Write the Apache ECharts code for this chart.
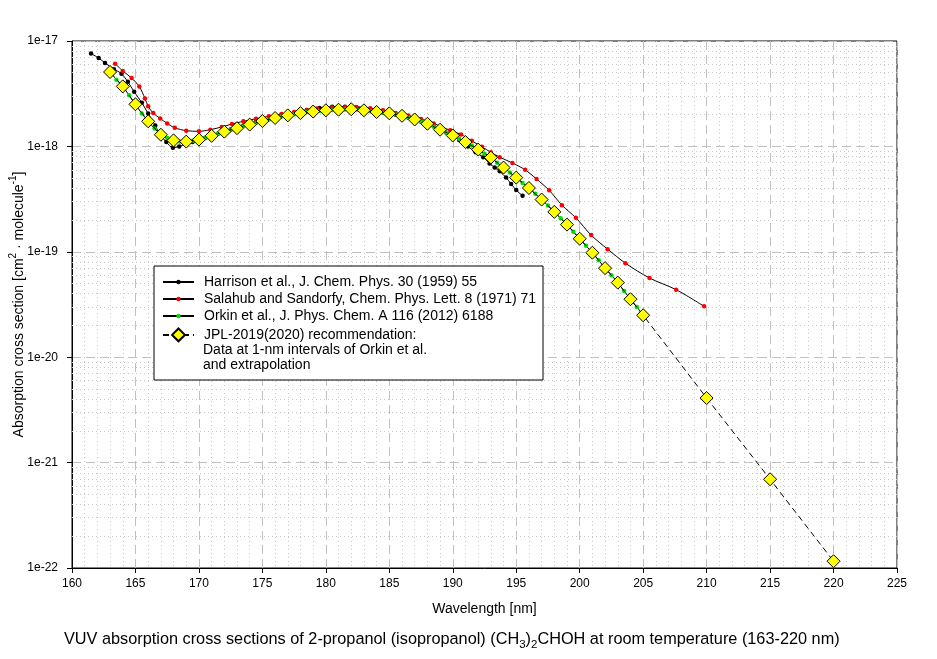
<!DOCTYPE html>
<html>
<head>
<meta charset="utf-8">
<script src="https://cdn.jsdelivr.net/npm/echarts@6/dist/echarts.min.js"></script>
<style>
  html, body { margin: 0; padding: 0; background: #fff; }
  #chart { width: 937px; height: 659px; }
</style>
</head>
<body>
<div id="chart"></div>
<script>
// Harrison et al. (1959)
const harrisonWl = [161.5, 162.1, 162.6, 163.3, 163.9, 164.4, 164.9, 165.5, 166.0, 166.56, 166.9, 167.43, 167.95, 168.45,
  169.0, 169.5, 170.5, 171.5, 172.5, 173.5, 174.5, 175.5, 176.5, 177.5, 178.5, 179.5, 180.5, 181.5, 182.5, 183.5,
  184.5, 185.5, 186.5, 187.5, 188.5, 189.5, 190.5, 191.2, 191.8, 192.4, 192.9, 193.3, 193.7, 194.2, 194.6, 195.0, 195.5];
const harrisonVal = [7.6e-18, 6.9e-18, 6.2e-18, 5.4e-18, 4.9e-18, 4.1e-18, 3.3e-18, 2.6e-18, 2.05e-18, 1.58e-18, 1.32e-18, 1.1e-18, 9.7e-19, 1.0e-18,
  1.05e-18, 1.1e-18, 1.2e-18, 1.32e-18, 1.45e-18, 1.58e-18, 1.7e-18, 1.82e-18, 1.95e-18, 2.07e-18, 2.22e-18, 2.32e-18, 2.38e-18, 2.38e-18, 2.3e-18, 2.2e-18,
  2.1e-18, 2.0e-18, 1.88e-18, 1.72e-18, 1.55e-18, 1.35e-18, 1.15e-18, 1.0e-18, 8.8e-19, 7.9e-19, 6.9e-19, 6.3e-19, 5.8e-19, 5.06e-19, 4.4e-19, 3.85e-19, 3.4e-19];

// Salahub and Sandorfy (1971)
const salahubWl = [163.4, 164.0, 164.7, 165.3, 165.75, 166.0, 166.4, 166.95, 167.5, 168.1, 169.0, 170.0, 170.9, 171.8, 172.6,
  173.5, 174.5, 175.5, 176.5, 177.5, 178.5, 179.3, 180.5, 181.5, 182.4, 183.5, 184.5, 185.5, 186.5, 187.5, 188.5,
  189.8, 190.65, 191.5, 192.3, 193.0, 193.7, 194.7, 195.7, 196.6, 197.6, 198.6, 199.7, 200.9, 202.2, 203.6, 205.5, 207.6, 209.8];
const salahubVal = [6.1e-18, 5.2e-18, 4.45e-18, 3.7e-18, 2.85e-18, 2.4e-18, 2.07e-18, 1.84e-18, 1.65e-18, 1.5e-18, 1.41e-18, 1.39e-18, 1.44e-18, 1.53e-18, 1.63e-18,
  1.73e-18, 1.83e-18, 1.93e-18, 2.03e-18, 2.12e-18, 2.22e-18, 2.29e-18, 2.34e-18, 2.37e-18, 2.37e-18, 2.3e-18, 2.2e-18, 2.08e-18, 1.96e-18, 1.82e-18, 1.65e-18,
  1.42e-18, 1.3e-18, 1.13e-18, 9.9e-19, 8.8e-19, 7.9e-19, 6.96e-19, 6.0e-19, 4.9e-19, 3.83e-19, 2.77e-19, 2.1e-19, 1.44e-19, 1.06e-19, 7.8e-20, 5.64e-20, 4.37e-20, 3.04e-20];

// Orkin et al. (2012), 0.5 nm steps
const orkinWl = [163, 163.5, 164, 164.5, 165, 165.5, 166, 166.5, 167, 167.5, 168, 168.5, 169, 169.5, 170, 170.5,
  171, 171.5, 172, 172.5, 173, 173.5, 174, 174.5, 175, 175.5, 176, 176.5, 177, 177.5, 178, 178.5, 179, 179.5,
  180, 180.5, 181, 181.5, 182, 182.5, 183, 183.5, 184, 184.5, 185, 185.5, 186, 186.5, 187, 187.5, 188, 188.5,
  189, 189.5, 190, 190.5, 191, 191.5, 192, 192.5, 193, 193.5, 194, 194.5, 195, 195.5, 196, 196.5, 197, 197.5,
  198, 198.5, 199, 199.5, 200, 200.5, 201, 201.5, 202, 202.5, 203, 203.5, 204, 204.5, 205];
const orkinVal = [5.08e-18, 4.3e-18, 3.71e-18, 3.05e-18, 2.51e-18, 2.05e-18, 1.73e-18, 1.48e-18, 1.29e-18, 1.2e-18, 1.14e-18, 1.11e-18, 1.11e-18, 1.13e-18, 1.16e-18, 1.21e-18,
  1.26e-18, 1.32e-18, 1.38e-18, 1.43e-18, 1.49e-18, 1.55e-18, 1.61e-18, 1.67e-18, 1.74e-18, 1.8e-18, 1.86e-18, 1.92e-18, 1.97e-18, 2.02e-18, 2.07e-18, 2.11e-18, 2.14e-18, 2.17e-18,
  2.2e-18, 2.22e-18, 2.23e-18, 2.24e-18, 2.25e-18, 2.23e-18, 2.2e-18, 2.16e-18, 2.12e-18, 2.09e-18, 2.06e-18, 2.01e-18, 1.95e-18, 1.88e-18, 1.8e-18, 1.72e-18, 1.64e-18, 1.54e-18,
  1.44e-18, 1.35e-18, 1.27e-18, 1.18e-18, 1.1e-18, 1.02e-18, 9.33e-19, 8.5e-19, 7.83e-19, 7.0e-19, 6.3e-19, 5.65e-19, 5.06e-19, 4.5e-19, 4.03e-19, 3.55e-19, 3.13e-19, 2.75e-19,
  2.39e-19, 2.08e-19, 1.81e-19, 1.55e-19, 1.33e-19, 1.14e-19, 9.8e-20, 8.3e-20, 7.0e-20, 6.0e-20, 5.1e-20, 4.25e-20, 3.55e-20, 3.0e-20, 2.5e-20];

// JPL-2019 recommendation (1 nm + extrapolation)
const jplWl = [163, 164, 165, 166, 167, 168, 169, 170, 171, 172, 173, 174, 175, 176, 177, 178, 179, 180, 181, 182,
  183, 184, 185, 186, 187, 188, 189, 190, 191, 192, 193, 194, 195, 196, 197, 198, 199, 200, 201, 202, 203, 204, 205,
  210, 215, 220];
const jplVal = [5.08e-18, 3.71e-18, 2.51e-18, 1.73e-18, 1.29e-18, 1.14e-18, 1.11e-18, 1.16e-18, 1.26e-18, 1.38e-18,
  1.49e-18, 1.61e-18, 1.74e-18, 1.86e-18, 1.97e-18, 2.07e-18, 2.14e-18, 2.2e-18, 2.23e-18, 2.25e-18,
  2.2e-18, 2.12e-18, 2.06e-18, 1.95e-18, 1.8e-18, 1.64e-18, 1.44e-18, 1.27e-18, 1.1e-18, 9.33e-19,
  7.83e-19, 6.3e-19, 5.06e-19, 4.03e-19, 3.13e-19, 2.39e-19, 1.81e-19, 1.33e-19, 9.8e-20, 7.0e-20,
  5.1e-20, 3.55e-20, 2.5e-20, 4.1e-21, 6.95e-22, 1.16e-22];

const seriesNames = [
  'Harrison et al., J. Chem. Phys. 30 (1959) 55',
  'Salahub and Sandorfy, Chem. Phys. Lett. 8 (1971) 71',
  'Orkin et al., J. Phys. Chem. A 116 (2012) 6188',
  'JPL-2019(2020) recommendation:'
];
const legendExtra = ['Data at 1-nm intervals of Orkin et al.', 'and extrapolation'];

const FONT = 'Liberation Sans, Arial, sans-serif';
// echarts log axis rounds tiny numbers to 0, so plot in units of 1e-22
const UNIT_EXP = -22;
const UNIT = 1e22;
const zip = (xs, ys) => xs.map((x, i) => [x, ys[i] * UNIT]);

// minor log grid lines (2..9 per decade)
const minorLines = [];
for (let e = 0; e < 5; e++) {
  for (let m = 2; m <= 9; m++) minorLines.push({ yAxis: m * Math.pow(10, e) });
}

const legendText = { fontSize: 14, color: '#000', fontFamily: FONT, padding: [0, 0, 0, 5] };

const chart = echarts.init(document.getElementById('chart'));

const option = {
  animation: false,
  backgroundColor: '#fff',
  textStyle: { fontFamily: FONT },
  grid: {
    left: 72, right: 40, top: 41, bottom: 91, outerBoundsMode: 'none', containLabel: false,
    show: true, borderColor: '#000', borderWidth: 1, backgroundColor: 'transparent'
  },
  xAxis: {
    type: 'value', min: 160, max: 225, interval: 5,
    name: 'Wavelength [nm]', nameLocation: 'middle', nameGap: 34, nameMoveOverlap: false,
    nameTextStyle: { fontSize: 14, color: '#000', fontFamily: FONT },
    axisLine: { lineStyle: { color: '#000', width: 1 } },
    axisTick: { show: true, length: 5, lineStyle: { color: '#000' } },
    axisLabel: { color: '#000', fontSize: 12, margin: 10, fontFamily: FONT },
    splitLine: { show: true, lineStyle: { color: '#c0c0c0', type: [9, 5], width: 1 } },
    minorTick: { show: false, splitNumber: 5 },
    minorSplitLine: { show: true, lineStyle: { color: '#c8c8c8', type: [1, 3], width: 1 } }
  },
  yAxis: {
    type: 'log', logBase: 10, min: 1, max: 1e5, splitNumber: 5,
    name: '{a|Absorption cross section [cm}{s|2}{a| · molecule}{s|-1}{a|]}',
    nameLocation: 'middle', nameGap: 46, nameRotate: 90, nameMoveOverlap: false,
    nameTextStyle: {
      color: '#000', fontFamily: FONT,
      rich: {
        a: { fontSize: 14, color: '#000', lineHeight: 18, verticalAlign: 'bottom', fontFamily: FONT },
        s: { fontSize: 10, color: '#000', lineHeight: 18, verticalAlign: 'top', fontFamily: FONT }
      }
    },
    axisLine: { show: true, lineStyle: { color: '#000', width: 1 } },
    axisTick: { show: true, length: 5, lineStyle: { color: '#000' } },
    axisLabel: {
      color: '#000', fontSize: 12, margin: 14, fontFamily: FONT,
      formatter: v => '1e' + (Math.round(Math.log10(v)) + UNIT_EXP)
    },
    splitLine: { show: true, lineStyle: { color: '#c0c0c0', type: [9, 5], width: 1 } }
  },
  legend: [
    {
      data: seriesNames.slice(0, 3),
      orient: 'vertical', left: 162, top: 275, padding: 0,
      itemWidth: 31, itemHeight: 5.5, itemGap: 3,
      textStyle: legendText, selectedMode: false
    },
    {
      data: seriesNames.slice(3),
      orient: 'vertical', left: 162, top: 327.5, padding: 0,
      itemWidth: 31, itemHeight: 16, itemGap: 1,
      textStyle: legendText, selectedMode: false
    }
  ],
  graphic: [
    { type: 'rect', z: 3, shape: { x: 154, y: 266, width: 389, height: 114 },
      style: { fill: '#fff', stroke: '#000', lineWidth: 1 } },
    { type: 'text', z: 6, x: 203, y: 350,
      style: { text: legendExtra[0], fill: '#000', font: '14px ' + FONT, verticalAlign: 'middle' } },
    { type: 'text', z: 6, x: 203, y: 365,
      style: { text: legendExtra[1], fill: '#000', font: '14px ' + FONT, verticalAlign: 'middle' } },
    { type: 'text', z: 6, left: 64, top: 632,
      style: {
        text: '{t|VUV absorption cross sections of 2-propanol (isopropanol) (CH}{s|3}{t|)}{s|2}{t|CHOH at room temperature (163-220 nm)}',
        rich: {
          t: { fontSize: 16.3, fill: '#000', lineHeight: 19, verticalAlign: 'top', fontFamily: FONT },
          s: { fontSize: 11.5, fill: '#000', lineHeight: 19, verticalAlign: 'bottom', fontFamily: FONT }
        }
      } }
  ],
  series: [
    {
      name: 'minor-grid', type: 'line', data: [], z: 1, silent: true,
      markLine: {
        silent: true, symbol: 'none', z: 1, animation: false,
        label: { show: false },
        lineStyle: { color: '#c8c8c8', type: [1, 3], width: 1 },
        data: minorLines
      }
    },
    {
      name: seriesNames[0], type: 'line', data: zip(harrisonWl, harrisonVal),
      smooth: 0.3, showAllSymbol: true, symbol: 'circle', symbolSize: 4.5, z: 3,
      itemStyle: { color: '#000' }, lineStyle: { color: '#000', width: 1 }
    },
    {
      name: seriesNames[1], type: 'line', data: zip(salahubWl, salahubVal),
      smooth: 0.3, showAllSymbol: true, symbol: 'circle', symbolSize: 4.5, z: 3,
      itemStyle: { color: '#ff0000' }, lineStyle: { color: '#000', width: 1 }
    },
    {
      name: seriesNames[2], type: 'line', data: zip(orkinWl, orkinVal),
      smooth: 0.3, showAllSymbol: true, symbol: 'circle', symbolSize: 4.5, z: 4,
      itemStyle: { color: '#00e000' }, lineStyle: { color: '#000', width: 1 }
    },
    {
      name: seriesNames[3], type: 'line', data: zip(jplWl, jplVal),
      showAllSymbol: true, symbol: 'diamond', symbolSize: 13, z: 5,
      itemStyle: { color: '#ffff00', borderColor: '#000', borderWidth: 1 },
      lineStyle: { color: '#000', width: 1, type: [6, 4] }
    }
  ]
};

chart.setOption(option);
window.onresize = () => chart.resize();
</script>
</body>
</html>
